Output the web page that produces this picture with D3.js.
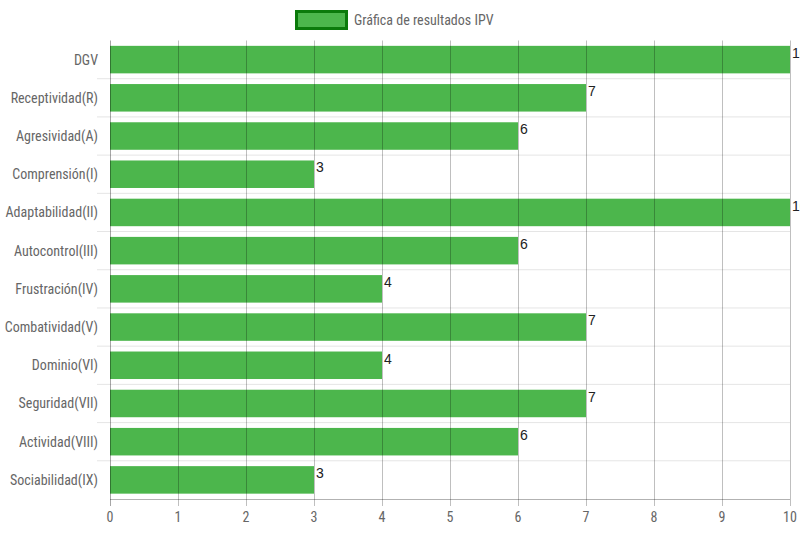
<!DOCTYPE html>
<html><head><meta charset="utf-8">
<script src="https://cdn.jsdelivr.net/npm/d3@7/dist/d3.min.js"></script>
<style>body{margin:0;background:#fff}svg{display:block}</style>
</head><body>
<svg id="c" width="800" height="533"></svg>
<script>
const categories = ["DGV","Receptividad(R)","Agresividad(A)","Comprensión(I)","Adaptabilidad(II)","Autocontrol(III)","Frustración(IV)","Combatividad(V)","Dominio(VI)","Seguridad(VII)","Actividad(VIII)","Sociabilidad(IX)"];
const values = [10,7,6,3,10,6,4,7,4,7,6,3];
const xTicks = [0,1,2,3,4,5,6,7,8,9,10];
const seriesName = "Gráfica de resultados IPV";

const font = "'Liberation Sans Narrow','Roboto Condensed','Arial Narrow',sans-serif";
const svg = d3.select("#c");
const L = 110, R = 790, T = 40.5, B = 499;
const x = d3.scaleLinear().domain([0,10]).range([L,R]);
const y = d3.scaleBand().domain(categories).range([T,B]);
const barH = y.bandwidth()*0.72;

// horizontal grid (category boundaries)
const bounds = d3.range(categories.length+1).map(i => T + i*y.step());
svg.append("g").selectAll("line").data(bounds.slice(1,-1)).join("line")
  .attr("x1", L-13).attr("x2", R).attr("y1", d=>d).attr("y2", d=>d)
  .attr("stroke","#e5e5e5").attr("stroke-width",1);

// bars
svg.append("g").selectAll("rect").data(values).join("rect")
  .attr("x", x(0)).attr("y", (d,i)=> y(categories[i]) + (y.bandwidth()-barH)/2)
  .attr("width", d=> x(d)-x(0)).attr("height", barH)
  .attr("fill","#4cb64c");

// vertical grid
svg.append("g").selectAll("line").data(xTicks).join("line")
  .attr("x1", d=>Math.round(x(d))+0.5).attr("x2", d=>Math.round(x(d))+0.5)
  .attr("y1", T).attr("y2", B+7)
  .attr("stroke", d=> d===0 ? "rgba(0,0,0,0.35)" : "rgba(0,0,0,0.25)").attr("stroke-width",1);

// bottom axis line
svg.append("line").attr("x1",L).attr("x2",R).attr("y1",B+0.5).attr("y2",B+0.5)
  .attr("stroke","rgba(0,0,0,0.3)");

// x tick labels
svg.append("g").selectAll("text").data(xTicks).join("text")
  .attr("x", d=>x(d)).attr("y", 522).attr("text-anchor","middle")
  .attr("font-family",font).attr("font-size",14).attr("fill","#666").text(d=>d);

// y labels
svg.append("g").selectAll("text").data(categories).join("text")
  .attr("x", 98).attr("y", d=> y(d)+y.bandwidth()/2+5).attr("text-anchor","end")
  .attr("font-family",font).attr("font-size",14).attr("fill","#666").text(d=>d);

// value labels
svg.append("g").selectAll("text").data(values).join("text")
  .attr("x", d=> x(d)+2).attr("y", (d,i)=> y(categories[i]) + (y.bandwidth()-barH)/2 + 12)
  .attr("font-family","'Liberation Sans',Arial,sans-serif").attr("font-size",14).attr("fill","#222").text(d=>d);

// legend
svg.append("rect").attr("x",296.5).attr("y",11.5).attr("width",50).attr("height",17)
  .attr("fill","#4cb64c").attr("stroke","#0b7a0b").attr("stroke-width",3);
svg.append("text").attr("x",354).attr("y",25).attr("font-family",font).attr("font-size",14)
  .attr("fill","#666").text(seriesName);
</script>
</body></html>
